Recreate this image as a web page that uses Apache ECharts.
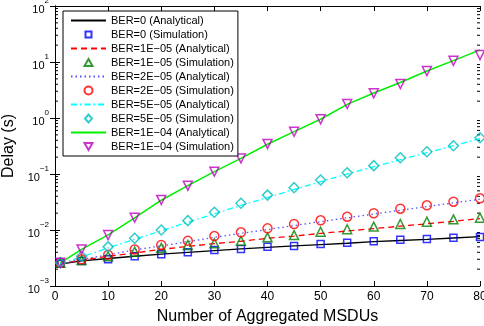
<!DOCTYPE html>
<html>
<head>
<meta charset="utf-8">
<script src="https://cdn.jsdelivr.net/npm/echarts@6/dist/echarts.min.js"></script>
<style>html,body{margin:0;padding:0;background:#fff}#c{width:484px;height:326px}</style>
</head>
<body>
<div id="c"></div>
<script>
const xVals = [1, 5, 10, 15, 20, 25, 30, 35, 40, 45, 50, 55, 60, 65, 70, 75, 80];
const xTicks = [0, 10, 20, 30, 40, 50, 60, 70, 80];
const yTicks = [0.001, 0.01, 0.1, 1, 10, 100];

const ber0A  = [0.00245, 0.0028, 0.0031, 0.0034, 0.0037, 0.0040, 0.0043, 0.0046, 0.0049, 0.0052, 0.0055, 0.0058, 0.0062, 0.0065, 0.0068, 0.0072, 0.0076];
const ber0S  = [0.0025, 0.0028, 0.0030, 0.0034, 0.0037, 0.0040, 0.0044, 0.0046, 0.0050, 0.0052, 0.0056, 0.0059, 0.0063, 0.0067, 0.0069, 0.0073, 0.0075];
const ber1A  = [0.0025, 0.0029, 0.0034, 0.0039, 0.0045, 0.0051, 0.0057, 0.0063, 0.0071, 0.0078, 0.0087, 0.0096, 0.0106, 0.0117, 0.0129, 0.0143, 0.0160];
const ber1S  = [0.0026, 0.0029, 0.0034, 0.0041, 0.0048, 0.0054, 0.0058, 0.0064, 0.0074, 0.0081, 0.0093, 0.0103, 0.0115, 0.0128, 0.0141, 0.0155, 0.0166];
const ber2A  = [0.0025, 0.0030, 0.0036, 0.0044, 0.0052, 0.0062, 0.0074, 0.0087, 0.0102, 0.0120, 0.0141, 0.0165, 0.0193, 0.0225, 0.0262, 0.0305, 0.0355];
const ber2S  = [0.0026, 0.0030, 0.0036, 0.0045, 0.0054, 0.0064, 0.0078, 0.0091, 0.0107, 0.0128, 0.0149, 0.0173, 0.0199, 0.0240, 0.0276, 0.0320, 0.0368];
const ber5A  = [0.0025, 0.0033, 0.0048, 0.0068, 0.0097, 0.0138, 0.0195, 0.0275, 0.038, 0.053, 0.073, 0.100, 0.135, 0.180, 0.24, 0.32, 0.43];
const ber5S  = [0.0026, 0.0034, 0.0050, 0.0071, 0.0100, 0.0147, 0.0207, 0.030, 0.042, 0.057, 0.078, 0.105, 0.141, 0.195, 0.25, 0.32, 0.445];
const ber10A = [0.0026, 0.0045, 0.0082, 0.0165, 0.034, 0.062, 0.11, 0.19, 0.34, 0.57, 0.95, 1.75, 2.8, 4.3, 6.9, 10.6, 16.5];
const ber10S = [0.0026, 0.0045, 0.0081, 0.0166, 0.0344, 0.0618, 0.11, 0.19, 0.344, 0.569, 0.95, 1.78, 2.76, 4.05, 6.9, 10.5, 13.3];

const names = [
  'BER=0 (Analytical)', 'BER=0 (Simulation)',
  'BER=1E\u221205 (Analytical)', 'BER=1E\u221205 (Simulation)',
  'BER=2E\u221205 (Analytical)', 'BER=2E\u221205 (Simulation)',
  'BER=5E\u221205 (Analytical)', 'BER=5E\u221205 (Simulation)',
  'BER=1E\u221204 (Analytical)', 'BER=1E\u221204 (Simulation)'
];

const FONT = 'Liberation Sans, Arial, Helvetica, sans-serif';
const pair = ys => xVals.map((x, i) => [x, ys[i]]);

function lineSeries(name, ys, color, type, width) {
  return {
    name, type: 'line', data: pair(ys), symbol: 'none', silent: true,
    lineStyle: { color, width: width || 1.2, type: type || 'solid' },
    itemStyle: { color }, z: 2
  };
}
function simSeries(name, ys, color, symbol, rotate, size) {
  return {
    name, type: 'scatter', data: pair(ys), symbol, symbolSize: size || 8,
    symbolRotate: rotate || 0, symbolKeepAspect: true, silent: true,
    itemStyle: { color: 'rgba(255,255,255,0)', borderColor: color, borderWidth: 1.5 }, z: 3
  };
}

// legend icons: small marker centred in a 35x8 box (lone moves fix the box)
const BOX = 'path://M0,0 M35,8 ';
const legendIcons = [
  BOX + 'M14.5,1 L20.5,1 L20.5,7 L14.5,7 Z',
  BOX + 'M17.5,0.5 L21.5,7.5 L13.5,7.5 Z',
  'circle',
  BOX + 'M17.5,0 L21,4 L17.5,8 L14,4 Z',
  BOX + 'M13.5,0.5 L21.5,0.5 L17.5,7.5 Z'
];

// minor tick positions for the log axis (2..9 per decade)
const minorTicks = [];
for (let e = -3; e < 2; e++) for (let m = 2; m <= 9; m++) minorTicks.push([0, m * Math.pow(10, e)]);

const supFmt = v => {
  const e = Math.round(Math.log10(v));
  return '{b|10}{s|' + (e < 0 ? '\u2212' + (-e) : e) + '}';
};

const axisCommon = {
  axisLine: { show: true, lineStyle: { color: '#000', width: 1 } },
  axisTick: { show: true, inside: true, length: 5, lineStyle: { color: '#000' } },
  splitLine: { show: false }
};

const legendData = names.map((n, i) => i % 2 === 0
  ? { name: n, itemStyle: { color: 'rgba(0,0,0,0)', borderWidth: 0, opacity: 0 } }
  : { name: n, icon: legendIcons[(i - 1) / 2], symbolRotate: 0, itemStyle: { color: 'rgba(255,255,255,0)' } });

const option = {
  backgroundColor: '#fff',
  animation: false,
  textStyle: { fontFamily: FONT },
  grid: { left: 55, right: 4, top: 6, bottom: 40, outerBoundsMode: 'none', containLabel: false },
  xAxis: [
    Object.assign({
      type: 'value', min: xTicks[0], max: xTicks[xTicks.length - 1], interval: 10,
      name: 'Number of Aggregated MSDUs', nameLocation: 'middle', nameGap: 23,
      nameTextStyle: { fontSize: 16, color: '#000', fontFamily: FONT },
      axisLabel: { fontSize: 12, color: '#000', margin: 5, fontFamily: FONT }
    }, axisCommon),
    Object.assign({
      type: 'value', position: 'top', min: xTicks[0], max: xTicks[xTicks.length - 1], interval: 10,
      axisLabel: { show: false }
    }, axisCommon)
  ],
  yAxis: [
    Object.assign({
      type: 'log', logBase: 10, min: yTicks[0], max: yTicks[yTicks.length - 1],
      name: 'Delay (s)', nameLocation: 'middle', nameGap: 33,
      nameTextStyle: { fontSize: 16, color: '#000', fontFamily: FONT },
      axisLabel: {
        formatter: supFmt, margin: 6, color: '#000',
        rich: {
          b: { fontSize: 11, fontFamily: FONT, color: '#000', lineHeight: 18, verticalAlign: 'bottom' },
          s: { fontSize: 8, fontFamily: FONT, color: '#000', lineHeight: 18, verticalAlign: 'top' }
        }
      }
    }, axisCommon),
    Object.assign({
      type: 'log', logBase: 10, position: 'right', min: yTicks[0], max: yTicks[yTicks.length - 1],
      axisLabel: { show: false }
    }, axisCommon)
  ],
  legend: {
    orient: 'vertical', left: 63, top: 11,
    data: legendData,
    backgroundColor: '#fff', borderColor: '#000', borderWidth: 1, borderRadius: 0,
    padding: [4, 4, 4, 7],
    itemWidth: 35, itemHeight: 8, itemGap: 3, symbolKeepAspect: true,
    textStyle: { fontSize: 11, lineHeight: 11, color: '#000', fontFamily: FONT },
    selectedMode: false
  },
  series: [
    {
      type: 'custom', coordinateSystem: 'cartesian2d', silent: true, z: 1,
      data: minorTicks,
      renderItem: (params, api) => {
        const v = api.value(1);
        const pL = api.coord([xTicks[0], v]);
        const pR = api.coord([xTicks[xTicks.length - 1], v]);
        return {
          type: 'group', children: [
            { type: 'line', shape: { x1: pL[0], y1: pL[1], x2: pL[0] + 3, y2: pL[1] }, style: { stroke: '#000', lineWidth: 1 } },
            { type: 'line', shape: { x1: pR[0] - 3, y1: pR[1], x2: pR[0], y2: pR[1] }, style: { stroke: '#000', lineWidth: 1 } }
          ]
        };
      }
    },
    lineSeries(names[0], ber0A, '#000000', 'solid', 1.3),
    simSeries(names[1], ber0S, '#0000ff', 'rect', 0, 7),
    lineSeries(names[2], ber1A, '#ff0000', [6, 4], 1.3),
    simSeries(names[3], ber1S, '#008000', 'triangle', 0, 9),
    lineSeries(names[4], ber2A, '#5555ff', [1.5, 3], 1.3),
    simSeries(names[5], ber2S, '#ff0000', 'circle', 0, 9),
    lineSeries(names[6], ber5A, '#00ffff', [6, 3, 1.5, 3], 1.3),
    simSeries(names[7], ber5S, '#00bfbf', 'diamond', 0, 10),
    lineSeries(names[8], ber10A, '#00ee00', 'solid', 1.5),
    simSeries(names[9], ber10S, '#bf00bf', 'triangle', 180, 9)
  ]
};

const chart = echarts.init(document.getElementById('c'), null, { renderer: 'canvas' });
chart.setOption(option);
</script>
</body>
</html>
